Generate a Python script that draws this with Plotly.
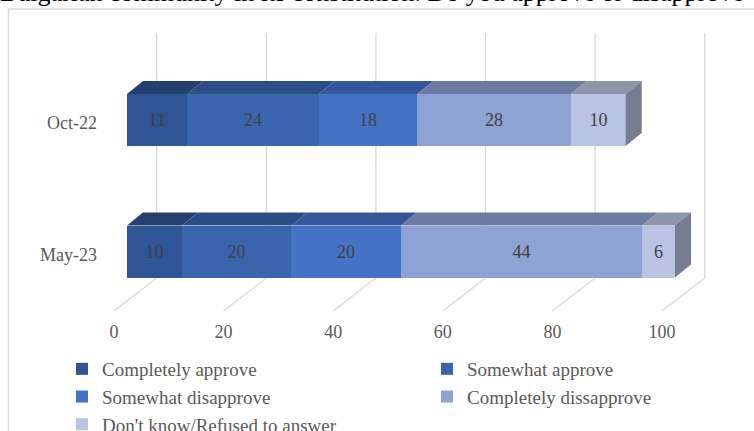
import plotly.graph_objects as go

# ---------------- data ----------------
categories = ["Oct-22", "May-23"]
series_names = ["Completely approve", "Somewhat approve", "Somewhat disapprove",
                "Completely dissapprove", "Don't know/Refused to answer"]
completely_approve = [11, 10]
somewhat_approve = [24, 20]
somewhat_disapprove = [18, 20]
completely_disapprove = [28, 44]
dont_know = [10, 6]
tick_values = [0, 20, 40, 60, 80, 100]
title_text = "Bulgarian community in its constitution. Do you approve or disapprove"

series_values = [completely_approve, somewhat_approve, somewhat_disapprove,
                 completely_disapprove, dont_know]

# ---------------- style ----------------
front_colors = ["#2F5597", "#3A64AC", "#4472C4", "#8FA2D4", "#B9C3E3"]
top_colors = ["#243F6F", "#2D4D86", "#33579A", "#6C7BA0", "#8C95AB"]
side_color = "#767D91"
FONT = "Liberation Serif"

W, H = 754, 431
PX_X = 5.48          # px per value unit
X0_PX = 127          # px of value 0 on bar front face
PX_Y = 131.5         # px per category step
Y1_PX = 120          # px of category position 1 (top)
x_range = [-X0_PX / PX_X, (W - X0_PX) / PX_X]
y_top = 1 + Y1_PX / PX_Y
y_range = [1 - (H - Y1_PX) / PX_Y, y_top]

def px2y(py):
    return y_top - py / PX_Y

bar_w = 52 / PX_Y
dx = 16 / PX_X       # depth offset in data units
dy = 13 / PX_Y

cat_pos = [len(categories) - 1 - i for i in range(len(categories))]

fig = go.Figure()
for name, vals, col in zip(series_names, series_values, front_colors):
    fig.add_trace(go.Bar(
        name=name, y=cat_pos, x=vals, orientation="h", width=bar_w,
        marker=dict(color=col, line=dict(width=0)),
        texttemplate="%{x}", textposition="inside", insidetextanchor="middle",
        insidetextfont=dict(family=FONT, size=18, color="#404040"),
        textangle=0, constraintext="none",
        hoverinfo="x+name",
    ))

shapes = []
# gridlines: back wall + floor
back_off = (156.7 - X0_PX) / PX_X
floor_off = (114 - X0_PX) / PX_X
for v in tick_values:
    shapes.append(dict(
        type="path", xref="x", yref="y", layer="below",
        path=f"M {v+back_off},{px2y(33)} L {v+back_off},{px2y(278)} L {v+floor_off},{px2y(311)}",
        line=dict(color="#D9D9D9", width=1.3),
    ))

# 3D top faces and end side faces
for ci, cp in enumerate(cat_pos):
    top = cp + bar_w / 2
    bot = cp - bar_w / 2
    cum = 0
    for si, vals in enumerate(series_values):
        x0 = cum
        x1 = cum + vals[ci]
        cum = x1
        shapes.append(dict(
            type="path", xref="x", yref="y", layer="above",
            path=f"M {x0},{top} L {x1},{top} L {x1+dx},{top+dy} L {x0+dx},{top+dy} Z",
            fillcolor=top_colors[si], line=dict(width=0),
        ))
    shapes.append(dict(
        type="path", xref="x", yref="y", layer="above",
        path=f"M {cum},{bot} L {cum},{top} L {cum+dx},{top+dy} L {cum+dx},{bot+dy} Z",
        fillcolor=side_color, line=dict(width=0),
    ))

# chart border
shapes.append(dict(type="rect", xref="paper", yref="paper",
                   x0=8.5 / W, x1=1.02, y0=-0.05, y1=1 - 9 / H,
                   line=dict(color="#D9D9D9", width=1.5), layer="below"))

fig.update_layout(
    width=W, height=H,
    margin=dict(l=0, r=0, t=0, b=0, autoexpand=False),
    paper_bgcolor="white", plot_bgcolor="rgba(0,0,0,0)",
    barmode="stack", bargap=0,
    font=dict(family=FONT, size=18, color="#595959"),
    shapes=shapes,
    xaxis=dict(range=x_range, domain=[0, 1], anchor="free", position=1 - 319 / H,
               tickvals=tick_values, showgrid=False, zeroline=False, showline=False,
               ticks="", ticklabelshift=-13, fixedrange=True, automargin=False,
               tickfont=dict(family=FONT, size=18, color="#595959")),
    yaxis=dict(range=y_range, domain=[0, 1], anchor="free", position=97 / W,
               tickvals=cat_pos, ticktext=categories, showgrid=False, zeroline=False,
               showline=False, ticks="", ticklabelshift=3, fixedrange=True, automargin=False,
               tickfont=dict(family=FONT, size=18, color="#595959")),
    legend=dict(orientation="h", x=62 / W, y=1 - 350 / H, xanchor="left", yanchor="top",
                entrywidth=320, entrywidthmode="pixels", traceorder="normal",
                font=dict(family=FONT, size=19, color="#595959"),
                bgcolor="rgba(0,0,0,0)"),
    annotations=[dict(text=title_text, xref="paper", yref="paper", x=-2 / W, y=1,
                      xanchor="left", yanchor="bottom", yshift=-9, showarrow=False,
                      font=dict(family=FONT, size=26, color="#000000"))],
)

fig.write_html("out.html")
